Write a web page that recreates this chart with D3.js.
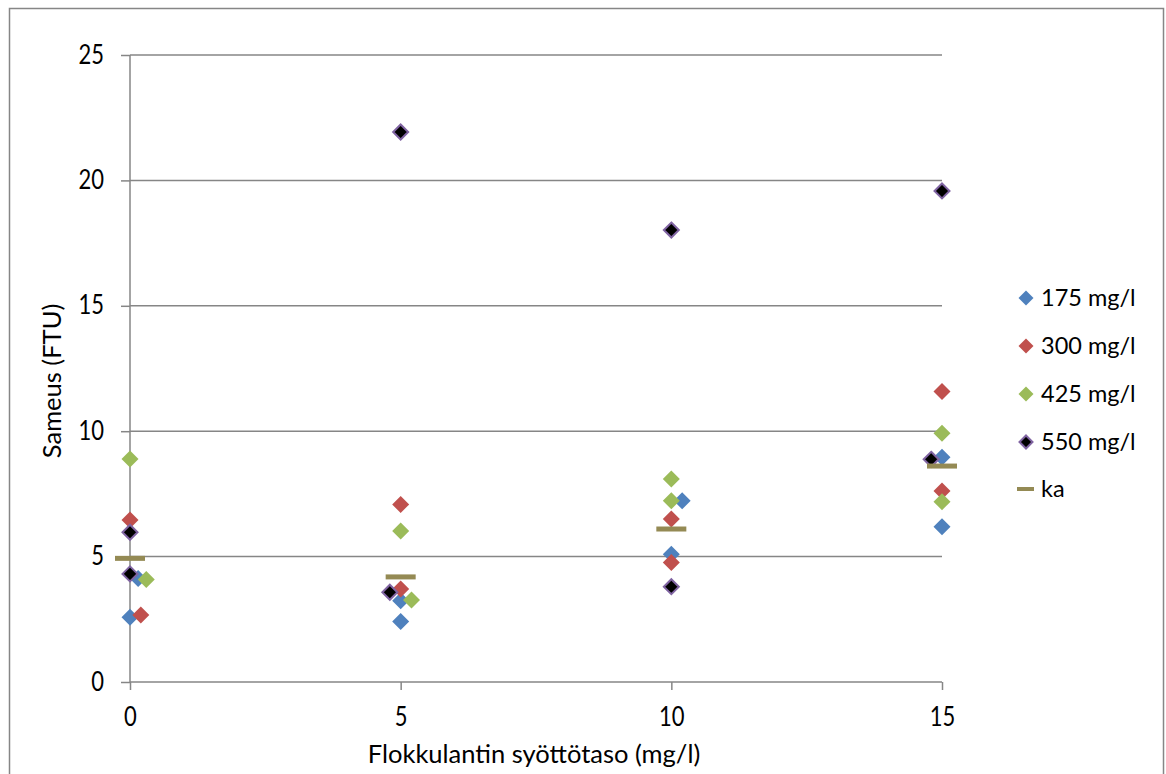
<!DOCTYPE html>
<html><head><meta charset="utf-8">
<script src="https://cdn.jsdelivr.net/npm/d3@7"></script>
<style>body{margin:0;background:#fff}svg{display:block}text{font-family:Lato,"Liberation Sans",sans-serif;fill:#000}</style>
</head><body>
<svg id="c" width="1166" height="774"></svg>
<script>
const xTicks = [0, 5, 10, 15];
const yTicks = [0, 5, 10, 15, 20, 25];
const seriesNames = ["175 mg/l", "300 mg/l", "425 mg/l", "550 mg/l"];
const seriesColors = ["#4F81BD", "#C0504D", "#9BBB59", "#000000"];
const s175x = [0, 0.15, 5, 5, 10, 10.2, 15, 15];
const s175y = [2.58, 4.13, 3.24, 2.41, 5.09, 7.23, 8.96, 6.19];
const s300x = [0, 0.2, 5, 5, 10, 10, 15, 15];
const s300y = [6.46, 2.67, 7.08, 3.71, 6.50, 4.76, 11.58, 7.62];
const s425x = [0, 0.3, 5, 5.2, 10, 10, 15, 15];
const s425y = [8.89, 4.09, 6.02, 3.27, 8.09, 7.23, 9.92, 7.19];
const s550x = [0, 0, 5, 4.8, 10, 10, 15, 14.8];
const s550y = [5.97, 4.31, 21.93, 3.58, 18.02, 3.80, 19.58, 8.88];
const kaX = [0, 5, 10, 15];
const kaY = [4.93, 4.19, 6.10, 8.61];

const svg = d3.select("#c");
const grey = "#868686";
const L = 130, R = 942, T = 55, B = 682;
const x = d3.scaleLinear().domain([0, 15]).range([L, R]);
const y = d3.scaleLinear().domain([0, 25]).range([B, T]);

// outer border
svg.append("rect").attr("x", 9.5).attr("y", 8.5).attr("width", 1154).attr("height", 800)
  .attr("fill", "none").attr("stroke", grey).attr("stroke-width", 1.5);

// gridlines
svg.append("g").selectAll("line").data(yTicks.filter(d => d > 0)).join("line")
  .attr("x1", L).attr("x2", R).attr("y1", d => y(d)).attr("y2", d => y(d))
  .attr("stroke", grey).attr("stroke-width", 1.5);

// y axis
const ya = svg.append("g").attr("transform", `translate(${L},0)`)
  .call(d3.axisLeft(y).tickValues(yTicks).tickSize(9).tickFormat(d3.format("d")));
ya.select(".domain").attr("stroke", grey).attr("stroke-width", 1.5).attr("d", `M0,${B}V${T}`);
ya.selectAll(".tick line").attr("stroke", grey).attr("stroke-width", 1.5);
ya.selectAll(".tick text").attr("font-size", 22).attr("font-family", "Lato").attr("fill", "#000")
  .attr("x", 0).attr("y", 0).attr("dy", null).attr("text-anchor", "end")
  .attr("transform", "translate(-26,8) scale(1,1.2)");

// x axis
const xa = svg.append("g").attr("transform", `translate(0,${B})`)
  .call(d3.axisBottom(x).tickValues(xTicks).tickSize(8).tickFormat(d3.format("d")));
xa.select(".domain").attr("stroke", grey).attr("stroke-width", 1.5).attr("d", `M${L},0H${R}`);
xa.selectAll(".tick line").attr("stroke", grey).attr("stroke-width", 1.5);
xa.selectAll(".tick text").attr("font-size", 22).attr("font-family", "Lato").attr("fill", "#000")
  .attr("x", 0).attr("y", 0).attr("dy", null)
  .attr("transform", "translate(0,44) scale(1,1.2)");

// axis titles
svg.append("text").attr("x", 534).attr("y", 763).attr("text-anchor", "middle")
  .attr("font-size", 25.5).text("Flokkulantin syöttötaso (mg/l)");
svg.append("text").attr("transform", "translate(61,381) rotate(-90)").attr("text-anchor", "middle")
  .attr("font-size", 25.5).text("Sameus (FTU)");

const diamond = r => `M0,${-r}L${r},0L0,${r}L${-r},0Z`;
const series = [[s175x, s175y], [s300x, s300y], [s425x, s425y], [s550x, s550y]];
series.forEach(([xs, ys], i) => {
  const pts = xs.map((v, j) => [v, ys[j]]);
  svg.append("g").selectAll("path").data(pts).join("path")
    .attr("transform", d => `translate(${x(d[0])},${y(d[1])})`)
    .attr("d", i === 3 ? diamond(7.5) : diamond(8.5))
    .attr("fill", seriesColors[i])
    .attr("stroke", i === 3 ? "#8064A2" : "none").attr("stroke-width", 2);
});
// ka
svg.append("g").selectAll("rect").data(kaX.map((v, j) => [v, kaY[j]])).join("rect")
  .attr("x", d => x(d[0]) - 15).attr("y", d => y(d[1]) - 2.5).attr("width", 30).attr("height", 5)
  .attr("fill", "#948A54");

// legend
const lg = svg.append("g");
const rowY = [298, 346, 394, 442, 489];
seriesNames.forEach((n, i) => {
  lg.append("path").attr("transform", `translate(1026,${rowY[i]})`)
    .attr("d", i === 3 ? diamond(6.5) : diamond(7.5)).attr("fill", seriesColors[i])
    .attr("stroke", i === 3 ? "#8064A2" : "none").attr("stroke-width", 2);
  lg.append("text").attr("x", 1041).attr("y", rowY[i] + 8).attr("font-size", 23.5).text(n);
});
lg.append("rect").attr("x", 1017).attr("y", rowY[4] - 2).attr("width", 17).attr("height", 4).attr("fill", "#948A54");
lg.append("text").attr("x", 1041).attr("y", rowY[4] + 8).attr("font-size", 23.5).text("ka");
</script>
</body></html>
